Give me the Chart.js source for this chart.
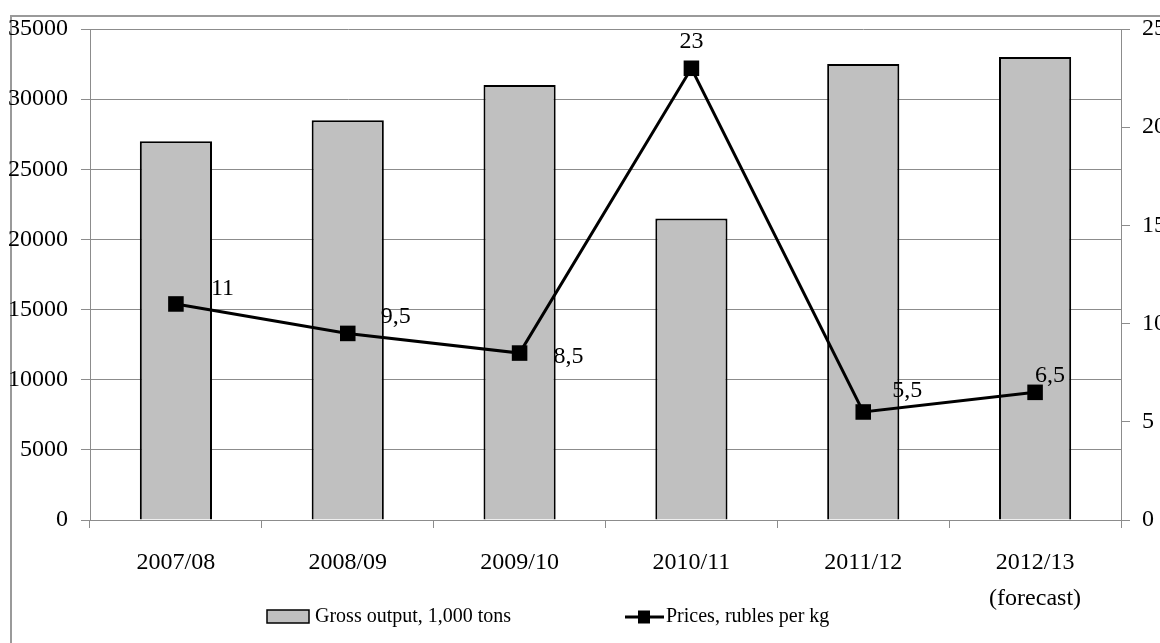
<!DOCTYPE html>
<html>
<head>
<meta charset="utf-8">
<script src="https://cdn.jsdelivr.net/npm/chart.js@4.4.1/dist/chart.umd.min.js"></script>
<style>
  html, body { margin: 0; padding: 0; background: #fff; overflow: hidden; }
  #wrap { width: 1160px; height: 643px; position: relative; }
</style>
</head>
<body>
<div id="wrap"><canvas id="c" width="1160" height="643"></canvas></div>
<script>
// Seasons, output and prices
const seasons = ['2007/08', '2008/09', '2009/10', '2010/11', '2011/12', ['2012/13', '(forecast)']];
const grossOutput = [27000, 28500, 31000, 21500, 32500, 33000];
const prices = [11, 9.5, 8.5, 23, 5.5, 6.5];
const outputLabel = 'Gross output, 1,000 tons';
const priceLabel = 'Prices, rubles per kg';
const outputAxisMax = 35000, outputAxisStep = 5000;
const priceAxisMax = 25, priceAxisStep = 5;

// Placement of each price label relative to its marker: [dx, dy, align]
const priceLabelPlacement = [
  [35, -15, 'left'], [33, -17, 'left'], [34, 4, 'left'],
  [0, -27, 'center'], [29, -21, 'left'], [0, -17, 'left']
];

const SERIF = '"Liberation Serif", "Times New Roman", serif';
const GRID = '#8c8c8c';

const framePlugin = {
  id: 'frame',
  beforeDraw(chart) {
    const ctx = chart.ctx;
    ctx.save();
    ctx.fillStyle = '#fff';
    ctx.fillRect(0, 0, chart.width, chart.height);
    ctx.strokeStyle = '#9a9a9a';
    ctx.lineWidth = 2;
    ctx.strokeRect(11, 16, 1400, 900);
    ctx.restore();
  }
};

const priceLabelsPlugin = {
  id: 'priceLabels',
  afterDatasetsDraw(chart) {
    const ctx = chart.ctx;
    const meta = chart.getDatasetMeta(1);
    ctx.save();
    ctx.font = '24px ' + SERIF;
    ctx.fillStyle = '#000';
    ctx.textBaseline = 'middle';
    meta.data.forEach((pt, i) => {
      const [dx, dy, align] = priceLabelPlacement[i];
      ctx.textAlign = align;
      ctx.fillText(String(prices[i]).replace('.', ','), pt.x + dx, pt.y + dy);
    });
    ctx.restore();
  }
};

const legendPlugin = {
  id: 'bottomLegend',
  afterDraw(chart) {
    const ctx = chart.ctx;
    const y = 617;
    ctx.save();
    ctx.font = '20px ' + SERIF;
    ctx.fillStyle = '#000';
    ctx.textBaseline = 'middle';
    ctx.textAlign = 'left';
    // bar swatch
    ctx.fillStyle = '#c0c0c0';
    ctx.fillRect(267, 610, 42, 13);
    ctx.strokeStyle = '#000';
    ctx.lineWidth = 1.5;
    ctx.strokeRect(267, 610, 42, 13);
    ctx.fillStyle = '#000';
    ctx.fillText(chart.data.datasets[0].label, 315, y);
    // line swatch
    ctx.beginPath();
    ctx.moveTo(625, y);
    ctx.lineTo(664, y);
    ctx.lineWidth = 3;
    ctx.stroke();
    ctx.fillRect(638, y - 6.5, 12, 13);
    ctx.fillText(chart.data.datasets[1].label, 666, y);
    ctx.restore();
  }
};

new Chart(document.getElementById('c'), {
  data: {
    labels: seasons,
    datasets: [
      {
        type: 'bar',
        label: outputLabel,
        data: grossOutput,
        yAxisID: 'y',
        backgroundColor: '#c0c0c0',
        borderColor: '#000',
        borderWidth: 2,
        barPercentage: 0.42,
        categoryPercentage: 1,
        order: 1
      },
      {
        type: 'line',
        label: priceLabel,
        data: prices,
        yAxisID: 'y1',
        borderColor: '#000',
        borderWidth: 3,
        pointStyle: 'rect',
        pointRadius: 11,
        pointBorderWidth: 0,
        pointBackgroundColor: '#000',
        pointHoverRadius: 11,
        tension: 0,
        order: 0
      }
    ]
  },
  options: {
    responsive: false,
    animation: false,
    devicePixelRatio: 1,
    layout: { padding: { top: 29, left: 0, right: 0, bottom: 0 } },
    plugins: { legend: { display: false }, tooltip: { enabled: false } },
    scales: {
      x: {
        offset: true,
        grid: { display: true, drawOnChartArea: false, drawTicks: true, tickLength: 8, color: GRID, offset: true },
        border: { display: true, color: GRID, width: 1 },
        ticks: { color: '#000', font: { family: SERIF, size: 24, lineHeight: 1.5 }, padding: 17, maxRotation: 0, autoSkip: false },
        afterFit(scale) { scale.height = 123; }
      },
      y: {
        position: 'left',
        min: 0, max: outputAxisMax,
        grid: { color: GRID, lineWidth: 1, tickLength: 9, drawTicks: true },
        border: { display: true, color: GRID, width: 1 },
        ticks: { stepSize: outputAxisStep, color: '#000', font: { family: SERIF, size: 24 }, padding: 13,
                 callback: (v) => String(v) },
        afterFit(scale) { scale.width = 90; }
      },
      y1: {
        position: 'right',
        min: 0, max: priceAxisMax,
        grid: { drawOnChartArea: false, color: GRID, tickLength: 9, drawTicks: true },
        border: { display: true, color: GRID, width: 1 },
        ticks: { stepSize: priceAxisStep, color: '#000', font: { family: SERIF, size: 24 }, padding: 12,
                 callback: (v) => String(v) },
        afterFit(scale) { scale.width = 39; }
      }
    }
  },
  plugins: [framePlugin, priceLabelsPlugin, legendPlugin]
});
</script>
</body>
</html>
